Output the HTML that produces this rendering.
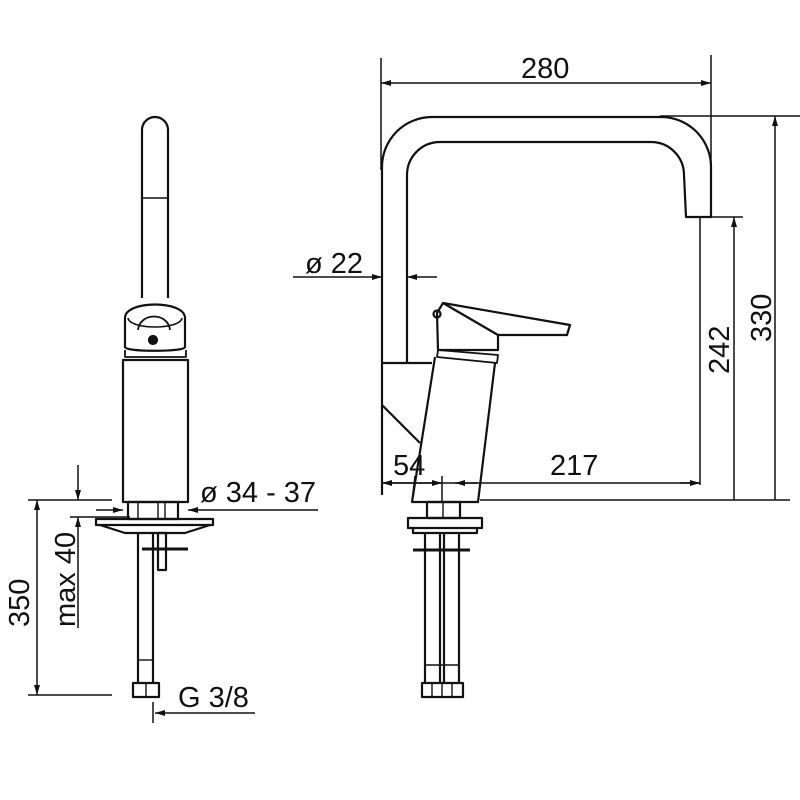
<!DOCTYPE html>
<html><head><meta charset="utf-8"><style>
html,body{margin:0;padding:0;background:#fff;}
svg{display:block;}
text{font-family:"Liberation Sans",sans-serif;fill:#111;}
</style></head><body>
<svg width="800" height="800" viewBox="0 0 800 800" xmlns="http://www.w3.org/2000/svg">
<defs>
<marker id="a" viewBox="0 0 10 6" refX="10" refY="3" markerWidth="10" markerHeight="6" orient="auto-start-reverse" markerUnits="userSpaceOnUse"><path d="M0,0 L10,3 L0,6 z" fill="#111"/></marker>
</defs>
<g fill="none" stroke="#111" stroke-width="2.2" stroke-linejoin="round">
<!-- LEFT VIEW -->
<path d="M142,298 L142,130 A13,13 0 0 1 168,130 L168,298"/>
<line x1="142" y1="198" x2="168" y2="198" stroke-width="1.5"/>
<path d="M125,318 C125,300 185,300 185,318 L185,347 C185,352 125,352 125,347 Z"/>
<path d="M138,330 C140,312 168,312 170,330" stroke-width="1.8"/>
<path d="M128,318 C130,330 180,330 182,318" stroke-width="1.6"/>
<circle cx="153" cy="340" r="4" fill="#111"/>
<path d="M125,350 L125,357 L186,357 L186,350" stroke-width="1.8"/>
<path d="M123,360 L123,502 L188,502 L188,360 Z"/>
<rect x="128" y="502" width="50" height="17"/>
<line x1="138" y1="502" x2="138" y2="519" stroke-width="1.4"/>
<line x1="158" y1="502" x2="158" y2="519" stroke-width="1.4"/>
<line x1="165" y1="502" x2="165" y2="519" stroke-width="1.4"/>
<path d="M96,519 L213,519 L213,525 L96,525 Z"/>
<path d="M100,525 L125,533 L185,533 L210,525"/>
<line x1="142" y1="549" x2="188" y2="549" stroke-width="3"/>
<rect x="158" y="533" width="8" height="37"/>
<path d="M138,533 L138,683 M153,533 L153,683"/>
<line x1="138" y1="660" x2="153" y2="660" stroke-width="1.4"/>
<rect x="133" y="683" width="26" height="14"/>
<line x1="146" y1="683" x2="146" y2="697" stroke-width="1.4"/>

<!-- RIGHT VIEW spout -->
<path d="M382,363 L382,168 A50,50 0 0 1 432,117 L662,117 A50,50 0 0 1 711,168 L711,217 L686,217 L684,175 A33,33 0 0 0 651,142 L440,142 A33,33 0 0 0 407,175 L407,363"/>
<path d="M382,363 L432,363 M382,405 L420,443" />
<line x1="382" y1="363" x2="382" y2="495"/>
<!-- body -->
<path d="M435,357 L412,502 L478,502 L495,363"/>
<path d="M438,350 L498,355 L497,363 L437,357 Z" stroke-width="1.8"/>
<path d="M443,303 L570,325 L567,335 L498,335 L498,350 L438,350 L437,313 Z"/>
<line x1="443" y1="303" x2="498" y2="335"/>
<circle cx="437" cy="314" r="3.5"/>
<!-- fittings -->
<rect x="427" y="502" width="33" height="16"/>
<line x1="443" y1="502" x2="443" y2="518" stroke-width="1.4"/>
<rect x="408" y="518" width="74" height="10"/>
<path d="M413,528 L413,533 L477,533 L477,528"/>
<line x1="413" y1="550" x2="470" y2="550" stroke-width="3"/>
<path d="M425,533 L425,683 M440,533 L440,683 M444,533 L444,683 M459,533 L459,683"/>
<line x1="425" y1="665" x2="459" y2="665" stroke-width="1.4"/>
<rect x="422" y="683" width="41" height="14"/>
<path d="M432,683 L432,697 M442,683 L442,697 M452,683 L452,697" stroke-width="1.4"/>
</g>

<g fill="none" stroke="#111" stroke-width="1.5">
<!-- left dims -->
<line x1="28" y1="500" x2="112" y2="500"/>
<line x1="28" y1="695" x2="112" y2="695"/>
<line x1="37" y1="500" x2="37" y2="695" marker-start="url(#a)" marker-end="url(#a)"/>
<line x1="70" y1="517" x2="130" y2="517"/>
<line x1="78" y1="465" x2="78" y2="500" marker-end="url(#a)"/>
<line x1="78" y1="545" x2="78" y2="517" marker-end="url(#a)"/>
<line x1="78" y1="545" x2="78" y2="628"/>
<line x1="96" y1="510" x2="123" y2="510" marker-end="url(#a)"/>
<line x1="318" y1="510" x2="188" y2="510" marker-end="url(#a)"/>
<line x1="255" y1="713" x2="155" y2="713" marker-end="url(#a)"/>
<line x1="153" y1="702" x2="153" y2="723"/>
<!-- right dims -->
<line x1="381" y1="58" x2="381" y2="170"/>
<line x1="711" y1="55" x2="711" y2="168"/>
<line x1="381" y1="83" x2="711" y2="83" marker-start="url(#a)" marker-end="url(#a)"/>
<line x1="660" y1="116" x2="800" y2="116"/>
<line x1="697" y1="217" x2="743" y2="217"/>
<line x1="700" y1="217" x2="700" y2="485"/>
<line x1="734" y1="500" x2="734" y2="217" marker-end="url(#a)"/>
<line x1="775" y1="500" x2="775" y2="116" marker-end="url(#a)"/>
<line x1="480" y1="500" x2="790" y2="500"/>
<line x1="293" y1="277" x2="382" y2="277" marker-end="url(#a)"/>
<line x1="437" y1="277" x2="407" y2="277" marker-end="url(#a)"/>
<line x1="382" y1="483" x2="700" y2="483"/>
<line x1="415" y1="483" x2="382" y2="483" marker-end="url(#a)"/>
<line x1="415" y1="483" x2="442" y2="483" marker-end="url(#a)"/>
<line x1="415" y1="476" x2="412" y2="502"/>
<line x1="442" y1="476" x2="442" y2="502"/>
<line x1="455" y1="483" x2="478" y2="483" marker-start="url(#a)"/>
<line x1="680" y1="483" x2="700" y2="483" marker-end="url(#a)"/>
</g>

<g font-size="29">
<text x="521" y="78">280</text>
<text x="305" y="273">ø 22</text>
<text x="393" y="475">54</text>
<text x="550" y="475">217</text>
<text x="200" y="502">ø 34 - 37</text>
<text x="178" y="707">G 3/8</text>
<text transform="translate(29,627) rotate(-90)">350</text>
<text transform="translate(75,627) rotate(-90)">max 40</text>
<text transform="translate(729,374) rotate(-90)">242</text>
<text transform="translate(771,342) rotate(-90)">330</text>
</g>
</svg>
</body></html>
